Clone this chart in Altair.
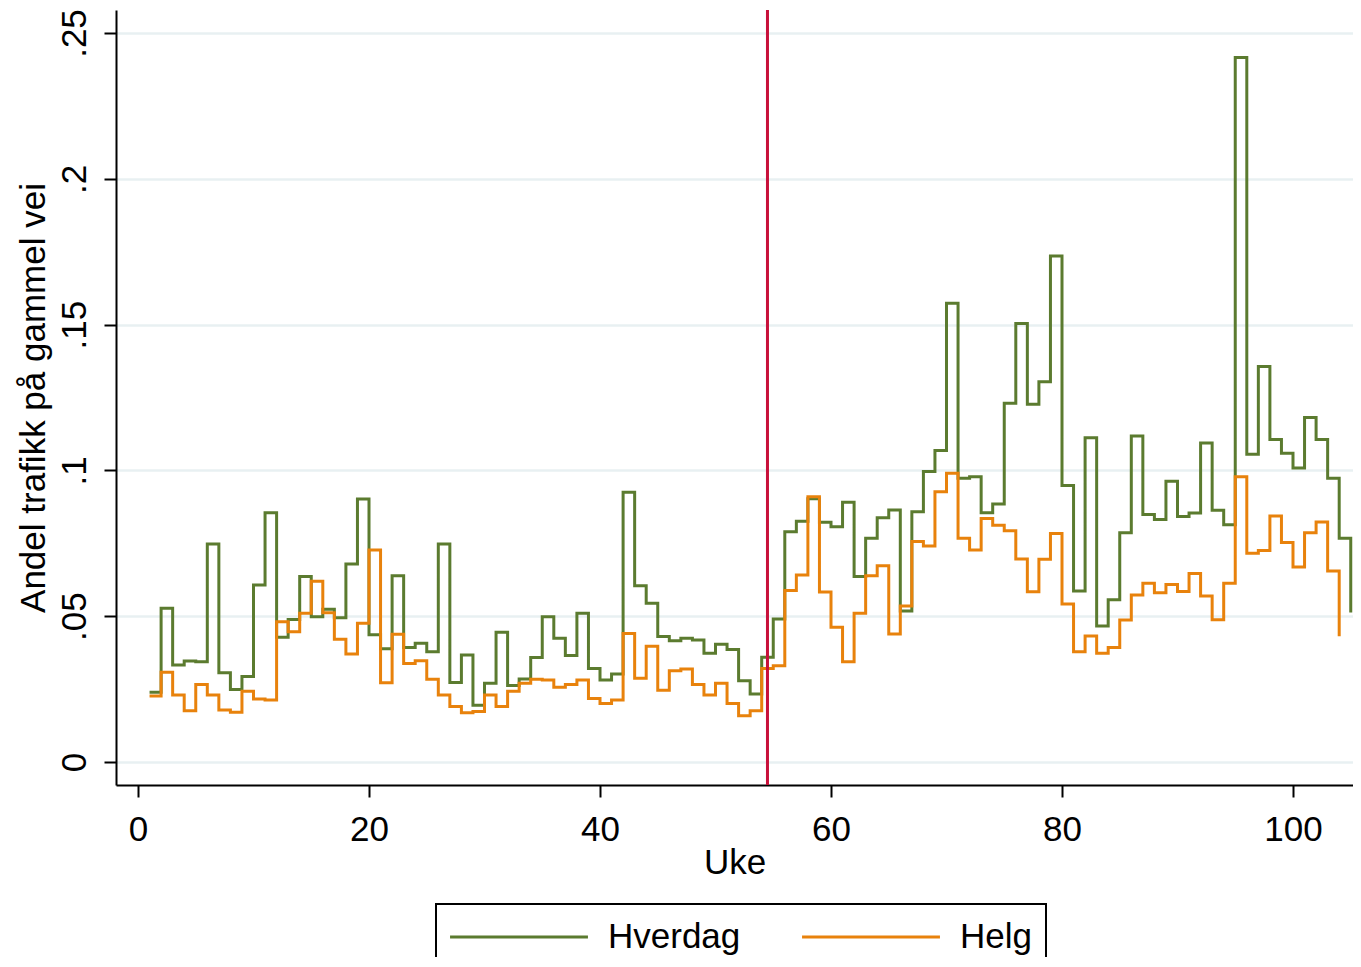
import altair as alt
import pandas as pd

# ---- data ----
weeks_hverdag = list(range(1, 106))
hverdag = [
    0.0239, 0.0527, 0.0333, 0.0346, 0.0344, 0.0748, 0.0306, 0.0249, 0.0293, 0.0607,
    0.0855, 0.0428, 0.0489, 0.0636, 0.0498, 0.0524, 0.0495, 0.0679, 0.0902, 0.0436,
    0.0388, 0.0639, 0.0393, 0.0407, 0.0378, 0.0748, 0.0273, 0.0367, 0.0195, 0.0270,
    0.0445, 0.0262, 0.0285, 0.0358, 0.0498, 0.0424, 0.0365, 0.0510, 0.0321, 0.0281,
    0.0302, 0.0925, 0.0604, 0.0544, 0.0430, 0.0416, 0.0424, 0.0418, 0.0373, 0.0404,
    0.0386, 0.0279, 0.0233, 0.0359, 0.0490, 0.0790, 0.0826, 0.0903, 0.0822, 0.0807,
    0.0891, 0.0636, 0.0767, 0.0838, 0.0864, 0.0518, 0.0858, 0.0996, 0.1068, 0.1573,
    0.0973, 0.0978, 0.0855, 0.0885, 0.1230, 0.1504, 0.1227, 0.1304, 0.1735, 0.0948,
    0.0586, 0.1112, 0.0466, 0.0556, 0.0786, 0.1118, 0.0849, 0.0832, 0.0963, 0.0842,
    0.0854, 0.1094, 0.0863, 0.0814, 0.2416, 0.1055, 0.1356, 0.1106, 0.1059, 0.1008,
    0.1181, 0.1106, 0.0973, 0.0767, 0.0513,
]
weeks_helg = list(range(1, 105))
helg = [
    0.0226, 0.0308, 0.0230, 0.0176, 0.0266, 0.0230, 0.0178, 0.0171, 0.0243, 0.0216,
    0.0213, 0.0481, 0.0447, 0.0510, 0.0620, 0.0512, 0.0421, 0.0370, 0.0476, 0.0727,
    0.0272, 0.0438, 0.0338, 0.0347, 0.0284, 0.0230, 0.0190, 0.0169, 0.0173, 0.0230,
    0.0190, 0.0243, 0.0270, 0.0284, 0.0281, 0.0256, 0.0266, 0.0281, 0.0218, 0.0201,
    0.0213, 0.0441, 0.0287, 0.0397, 0.0246, 0.0313, 0.0319, 0.0266, 0.0230, 0.0270,
    0.0201, 0.0159, 0.0176, 0.0321, 0.0330, 0.0588, 0.0641, 0.0910, 0.0583, 0.0462,
    0.0344, 0.0510, 0.0639, 0.0673, 0.0439, 0.0535, 0.0756, 0.0741, 0.0927, 0.0990,
    0.0767, 0.0727, 0.0835, 0.0812, 0.0793, 0.0696, 0.0584, 0.0695, 0.0784, 0.0542,
    0.0378, 0.0432, 0.0373, 0.0393, 0.0487, 0.0573, 0.0613, 0.0580, 0.0609, 0.0585,
    0.0646, 0.0569, 0.0488, 0.0613, 0.0978, 0.0716, 0.0725, 0.0844, 0.0753, 0.0669,
    0.0786, 0.0823, 0.0655, 0.0431,
]
intervention_week = [54.5]
x_ticks = [0, 20, 40, 60, 80, 100]
y_ticks = [0, 0.05, 0.1, 0.15, 0.2, 0.25]
series_names = ["Hverdag", "Helg"]
series_colors = ["#5B7B2F", "#E8820C"]
rule_color = "#C8103A"

FONT = "Liberation Sans"

df = pd.DataFrame({
    "Uke": weeks_hverdag + weeks_helg,
    "Andel": hverdag + helg,
    "Serie": ["Hverdag"] * len(hverdag) + ["Helg"] * len(helg),
})

x_enc = alt.X(
    "Uke:Q",
    scale=alt.Scale(domain=[-1.905, 105.195], nice=False, zero=False),
    axis=alt.Axis(values=x_ticks, title="Uke", format="d", grid=False,
                  labelPadding=15, titlePadding=-2),
)
y_enc = alt.Y(
    "Andel:Q",
    scale=alt.Scale(domain=[-0.00789, 0.25789], nice=False, zero=False),
    axis=alt.Axis(values=y_ticks, title="Andel trafikk på gammel vei",
                  labelExpr="datum.value == 0 ? '0' : replace(format(datum.value, '.2~f'), '0.', '.')",
                  labelAngle=270, labelAlign="center", labelBaseline="bottom",
                  labelPadding=12, titlePadding=6, grid=True,
                  gridColor="#E8F0F2", gridWidth=2.5),
)
color_enc = alt.Color(
    "Serie:N",
    scale=alt.Scale(domain=series_names, range=series_colors),
    legend=alt.Legend(title=None, orient="none", legendX=320, legendY=894,
                      direction="horizontal", columns=2),
)

base = alt.Chart(df)
layer_hv = base.transform_filter(alt.datum.Serie == "Hverdag").mark_line(
    interpolate="step-after", strokeWidth=3).encode(x=x_enc, y=y_enc, color=color_enc)
layer_he = base.transform_filter(alt.datum.Serie == "Helg").mark_line(
    interpolate="step-after", strokeWidth=3).encode(x=x_enc, y=y_enc, color=color_enc)

rule = alt.Chart(pd.DataFrame({"Uke": intervention_week})).mark_rule(
    color=rule_color, strokeWidth=3).encode(x="Uke:Q")

chart = alt.layer(layer_hv, layer_he, rule).properties(
    width=1237, height=775,
    autosize=alt.AutoSizeParams(type="none"),
    padding={"left": 108, "top": 2, "right": 0, "bottom": 172},
).configure_view(stroke=None).configure_axis(
    labelFont=FONT, labelFontSize=35, labelColor="black",
    titleFont=FONT, titleFontSize=35, titleFontWeight="normal", titleColor="black",
    domainColor="black", domainWidth=2, tickColor="black", tickWidth=2, tickSize=12,
).configure_legend(
    labelFont=FONT, labelFontSize=35, labelColor="black",
    strokeColor="black", strokeWidth=2, cornerRadius=0, padding=14,
    symbolType="M-3.94,0H3.94", symbolSize=1225, symbolStrokeWidth=3,
    symbolOffset=50, labelOffset=70, columnPadding=55,
)

chart.save("out.html", embed_options={"renderer": "svg", "actions": False})
